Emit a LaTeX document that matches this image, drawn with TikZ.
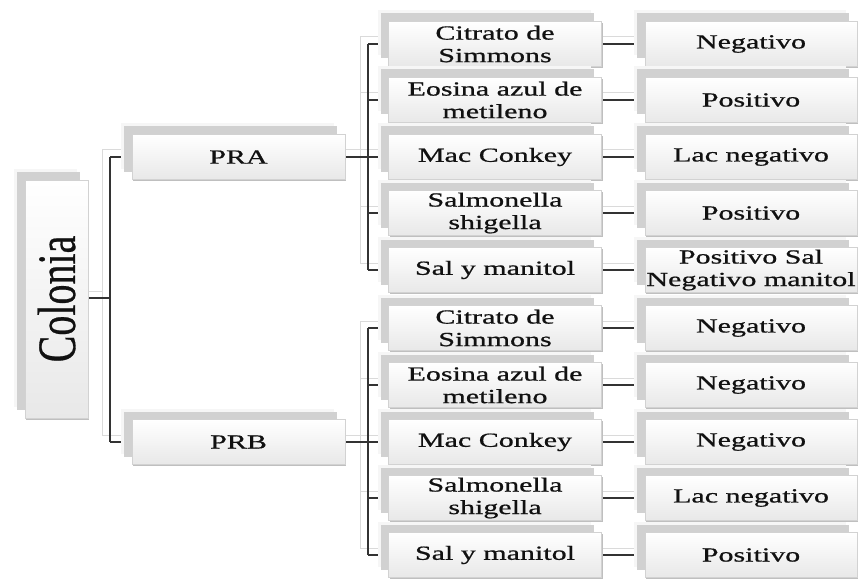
\documentclass[tikz,border=0pt]{standalone}
\usepackage{fontspec}
\usepackage{graphicx}
\setmainfont{Liberation Serif}
\newfontfamily\boxfont[FakeStretch=1.5,FakeBold=0.8]{Liberation Serif}
\newfontfamily\rootfont[FakeBold=0.6]{Liberation Serif}
\usetikzlibrary{shadows,calc}
\pgfdeclarelayer{background}
\pgfsetlayers{background,main}
\definecolor{lineC}{HTML}{333333}
\definecolor{ghostC}{HTML}{DADADA}
\definecolor{txtC}{HTML}{111111}
\tikzset{
  box/.style={rectangle, minimum width=213pt, minimum height=45pt, inner sep=0pt,
    top color=white, bottom color=gray!18, draw=gray!35, line width=0.4pt,
    align=center, text=txtC, font=\boxfont\fontsize{20}{22.5}\selectfont,
    general shadow={shadow xshift=-11pt, shadow yshift=11pt, fill=gray!7},
    general shadow={shadow xshift=-8pt, shadow yshift=8pt, fill=gray!36},
    general shadow={shadow xshift=1.2pt, shadow yshift=-1.5pt, fill=gray!50}},
  rootbox/.style={box, minimum width=63pt, minimum height=238pt},
  conn/.style={draw=lineC, line width=1.1pt},
  ghost/.style={draw=ghostC, line width=1pt}
}
\newcommand{\myconnectors}[1]{%
  \draw[#1] (col.east |- bus0) -- (bus0);
  \draw[#1] (bus0 |- pra.west) -- (bus0 |- prb.west);
  \draw[#1] (bus0 |- pra.west) -- (pra.west);
  \draw[#1] (bus0 |- prb.west) -- (prb.west);
  \draw[#1] (pra.east) -- (busA);
  \draw[#1] (prb.east) -- (busB);
  \draw[#1] (busA |- a1.west) -- (busA |- a5.west);
  \draw[#1] (busB |- b1.west) -- (busB |- b5.west);
  \foreach \m in {a1,a2,a3,a4,a5}{\draw[#1] (busA |- \m.west) -- (\m.west);}
  \foreach \m in {b1,b2,b3,b4,b5}{\draw[#1] (busB |- \m.west) -- (\m.west);}
  \foreach \m/\r in {a1/ra1,a2/ra2,a3/ra3,a4/ra4,a5/ra5,b1/rb1,b2/rb2,b3/rb3,b4/rb4,b5/rb5}{\draw[#1] (\m.east) -- (\r.west);}
}
\begin{document}
\begin{tikzpicture}[x=1pt,y=-1pt]
\useasboundingbox (0,0) rectangle (858,580);
% root
\node[rootbox] (col) at (56.5,299) {\rotatebox{90}{\scalebox{1}[1.35]{\fontsize{40}{40}\selectfont\rootfont Colonia}}};
% level 1
\node[box] (pra) at (238.5,157) {PRA};
\node[box] (prb) at (238.5,442) {PRB};
% level 2 (A)
\node[box] (a1) at (495,44) {Citrato de\\Simmons};
\node[box] (a2) at (495,100) {Eosina azul de\\metileno};
\node[box] (a3) at (495,157) {Mac Conkey};
\node[box] (a4) at (495,213) {Salmonella\\shigella};
\node[box] (a5) at (495,270) {Sal y manitol};
% level 2 (B)
\node[box] (b1) at (495,328) {Citrato de\\Simmons};
\node[box] (b2) at (495,385) {Eosina azul de\\metileno};
\node[box] (b3) at (495,442) {Mac Conkey};
\node[box] (b4) at (495,498) {Salmonella\\shigella};
\node[box] (b5) at (495,555) {Sal y manitol};
% level 3 (A)
\node[box, minimum width=212pt] (ra1) at (751,44) {Negativo};
\node[box, minimum width=212pt] (ra2) at (751,100) {Positivo};
\node[box, minimum width=212pt] (ra3) at (751,157) {Lac negativo};
\node[box, minimum width=212pt] (ra4) at (751,213) {Positivo};
\node[box, minimum width=212pt] (ra5) at (751,270) {Positivo Sal\\Negativo manitol};
% level 3 (B)
\node[box, minimum width=212pt] (rb1) at (751,328) {Negativo};
\node[box, minimum width=212pt] (rb2) at (751,385) {Negativo};
\node[box, minimum width=212pt] (rb3) at (751,442) {Negativo};
\node[box, minimum width=212pt] (rb4) at (751,498) {Lac negativo};
\node[box, minimum width=212pt] (rb5) at (751,555) {Positivo};
% bus coordinates
\coordinate (bus0) at (110,298);
\coordinate (busA) at (368,157);
\coordinate (busB) at (368,442);
\begin{pgfonlayer}{background}
\begin{scope}[transform canvas={shift={(-8pt,7pt)}}]
  \myconnectors{ghost}
\end{scope}
\myconnectors{conn}
\end{pgfonlayer}
\end{tikzpicture}
\end{document}
